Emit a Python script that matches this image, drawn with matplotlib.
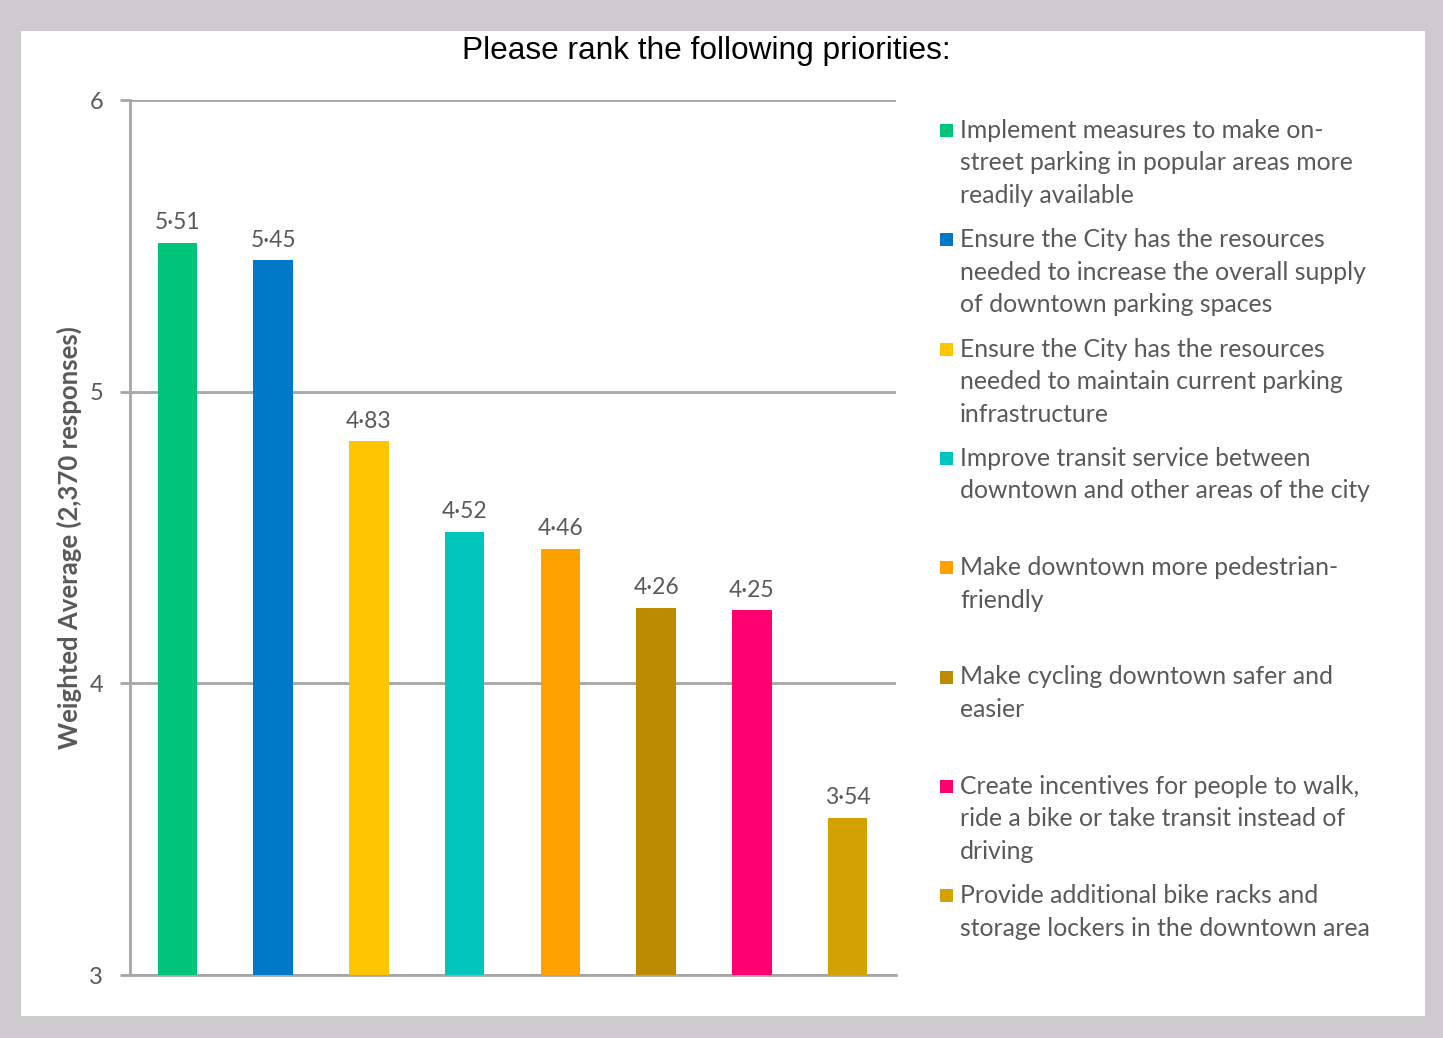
import matplotlib
matplotlib.use('Agg')
import matplotlib.pyplot as plt
from matplotlib.patches import Rectangle

categories = [
    "Implement measures to make on-\nstreet parking in popular areas more\nreadily available",
    "Ensure the City has the resources\nneeded to increase the overall supply\nof downtown parking spaces",
    "Ensure the City has the resources\nneeded to maintain current parking\ninfrastructure",
    "Improve transit service between\ndowntown and other areas of the city",
    "Make downtown more pedestrian-\nfriendly",
    "Make cycling downtown safer and\neasier",
    "Create incentives for people to walk,\nride a bike or take transit instead of\ndriving",
    "Provide additional bike racks and\nstorage lockers in the downtown area",
]
values = [5.51, 5.45, 4.83, 4.52, 4.46, 4.26, 4.25, 3.54]
colors = ['#00C47A', '#0078C8', '#FFC600', '#00C6BE', '#FFA100',
          '#BC8B00', '#FF0070', '#D4A200']
yticks = [3, 4, 5, 6]

W, H = 1443, 1038
txt = '#595959'
fig = plt.figure(figsize=(W / 100, H / 100), dpi=100)
fig.patch.set_facecolor('#CDCBCD')
fig.patches.append(Rectangle((21 / W, 1 - 1016 / H), (1425 - 21) / W, (1016 - 31) / H,
                             transform=fig.transFigure, facecolor='white',
                             edgecolor='none', zorder=-1))

ax = fig.add_axes([129.5 / W, 1 - 975 / H, (895.5 - 129.5) / W, (975 - 100) / H])
ax.set_facecolor('none')
x = list(range(len(values)))
ax.bar(x, values, width=0.41, color=colors, bottom=0, zorder=3)
ax.set_xlim(-0.5, len(values) - 0.5)
ax.set_ylim(3, 6)
ax.set_yticks(yticks)
ax.set_yticklabels([str(t) for t in yticks], fontsize=17, color=txt, family='Lato')
ax.set_xticks([])
ax.grid(axis='y', color='#A6A6A6', linewidth=2, zorder=1)
for s in ['top', 'right']:
    ax.spines[s].set_visible(False)
ax.spines['left'].set_color('#A6A6A6')
ax.spines['left'].set_linewidth(2)
ax.spines['bottom'].set_color('#A6A6A6')
ax.spines['bottom'].set_linewidth(2)
ax.tick_params(axis='y', length=7, width=2, color='#A6A6A6', pad=12)

for xi, v in zip(x, values):
    ax.annotate(f'{v:.2f}'.replace('.', '·'), (xi, v), xytext=(0, 7),
                textcoords='offset points', ha='center', va='bottom',
                fontsize=16.5, color=txt, family='Lato')

ax.set_ylabel('Weighted Average (2,370 responses)', fontsize=18.5, fontweight='bold',
              color=txt, family='Lato', labelpad=5)

fig.text(706 / W, 1 - 51 / H, 'Please rank the following priorities:', ha='center',
         va='center', fontsize=22.8, family='Liberation Sans', color='black')

# legend
for i, (lab, c) in enumerate(zip(categories, colors)):
    top = 119 + i * 109.3
    fig.patches.append(Rectangle((940 / W, 1 - (top + 18) / H), 13 / W, 13 / H,
                                 transform=fig.transFigure, facecolor=c,
                                 edgecolor='none'))
    fig.text(960 / W, 1 - top / H, lab, ha='left', va='top', fontsize=17.8,
             family='Lato', color=txt, linespacing=1.5)

fig.savefig('out.png', dpi=100)
